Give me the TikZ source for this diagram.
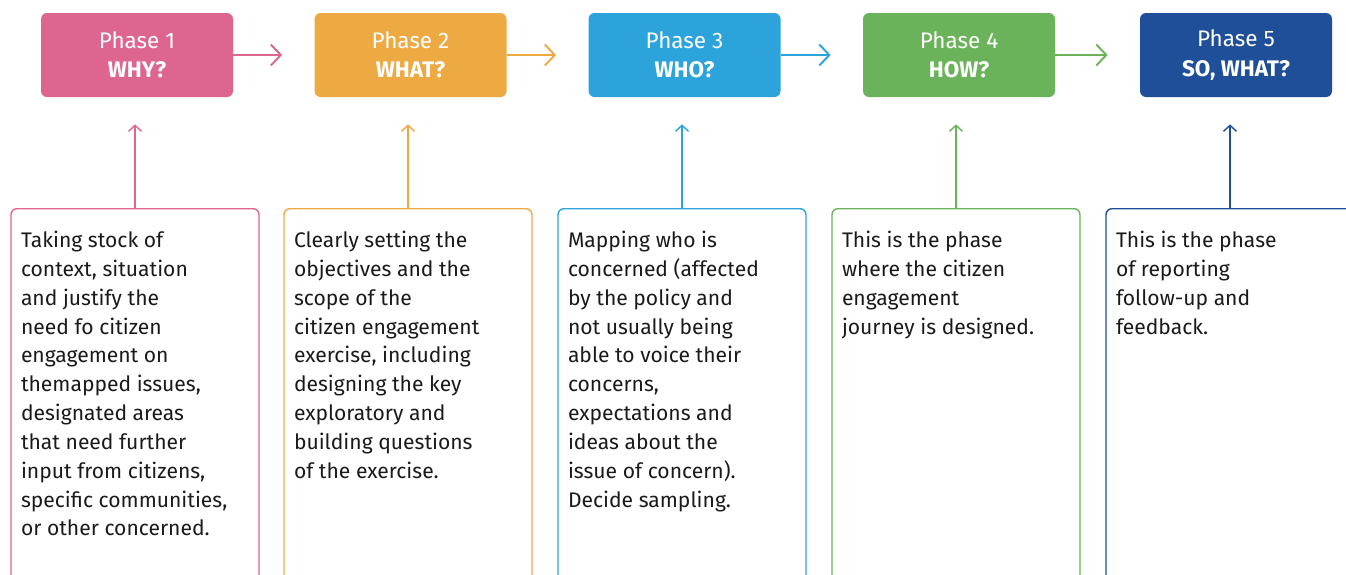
\documentclass[tikz,border=0pt]{standalone}
\usepackage{fontspec}
\setmainfont{Fira Sans}
\usetikzlibrary{arrows.meta,positioning}
\definecolor{cwhy}{HTML}{DD6590}
\definecolor{cwhat}{HTML}{EDA942}
\definecolor{cwho}{HTML}{2CA3DB}
\definecolor{chow}{HTML}{6BB35A}
\definecolor{csowhat}{HTML}{1F4F99}
\definecolor{ctext}{HTML}{1A1A1A}
\tikzset{
  every picture/.style={font=\fontsize{12}{16.4}\selectfont},
  phase/.style={fill=#1, rounded corners=0.12cm, minimum width=3.84cm,
    minimum height=1.68cm, text=white, align=center, inner sep=0pt,
    font=\fontsize{12.8}{16.6}\selectfont},
  desc/.style={draw=#1, line width=0.8pt, rounded corners=0.12cm, anchor=north,
    inner xsep=0.2cm, inner ysep=0.45cm, text=ctext},
  flow/.style={draw=#1, line width=1.1pt, shorten >=0.64cm,
    -{Straight Barb[length=0.2cm,width=0.42cm,line width=1.1pt]}},
  up/.style={draw=#1, line width=0.8pt, shorten >=0.54cm,
    -{Straight Barb[length=0.12cm,width=0.26cm,line width=0.8pt]}},
}
\newcommand{\desctext}[1]{\parbox[t][9cm][t]{4.56cm}{\raggedright #1}}
\newcommand{\bbox}{\path[use as bounding box] (0,0) rectangle (26.92,-11.48);
  \clip (0,0) rectangle (26.92,-11.48);}

\begin{document}
\begin{tikzpicture}
  \bbox
  % phases
  \node[phase=cwhy]    (p1) at (2.74,-1.10)  {Phase 1\\\textbf{WHY?}};
  \node[phase=cwhat]   (p2) at (8.21,-1.10)  {Phase 2\\\textbf{WHAT?}};
  \node[phase=cwho]    (p3) at (13.69,-1.10) {Phase 3\\\textbf{WHO?}};
  \node[phase=chow]    (p4) at (19.18,-1.10) {Phase 4\\\textbf{HOW?}};
  \node[phase=csowhat] (p5) at (24.72,-1.10) {Phase 5\\\textbf{SO, WHAT?}};
  \draw[flow=cwhy]  (p1) -- (p2);
  \draw[flow=cwhat] (p2) -- (p3);
  \draw[flow=cwho]  (p3) -- (p4);
  \draw[flow=chow]  (p4) -- (p5);
  % descriptions
  \node[desc=cwhy] (d1) at (2.70,-4.16) {\desctext{Taking stock of\\
    context, situation\\and justify the\\need fo citizen\\engagement on\\
    themapped issues,\\designated areas\\that need further\\
    input from citizens,\\specific communities,\\or other concerned.}};
  \node[desc=cwhat] (d2) at (8.16,-4.16) {\desctext{Clearly setting the\\
    objectives and the\\scope of the\\citizen engagement\\
    exercise, including\\designing the key\\exploratory and\\
    building questions\\of the exercise.}};
  \node[desc=cwho] (d3) at (13.64,-4.16) {\desctext{Mapping who is\\
    concerned (affected\\by the policy and\\not usually being\\
    able to voice their\\concerns,\\expectations and\\ideas about the\\
    issue of concern).\\Decide sampling.}};
  \node[desc=chow] (d4) at (19.12,-4.16) {\desctext{This is the phase\\
    where the citizen\\engagement\\journey is designed.}};
  \node[desc=csowhat] (d5) at (24.60,-4.16) {\desctext{This is the phase\\
    of reporting\\follow-up and\\feedback.}};
  \draw[up=cwhy]    (d1.north) -- (d1.north |- p1.south);
  \draw[up=cwhat]   (d2.north) -- (d2.north |- p2.south);
  \draw[up=cwho]    (d3.north) -- (d3.north |- p3.south);
  \draw[up=chow]    (d4.north) -- (d4.north |- p4.south);
  \draw[up=csowhat] (d5.north) -- (d5.north |- p5.south);
\end{tikzpicture}
\end{document}
